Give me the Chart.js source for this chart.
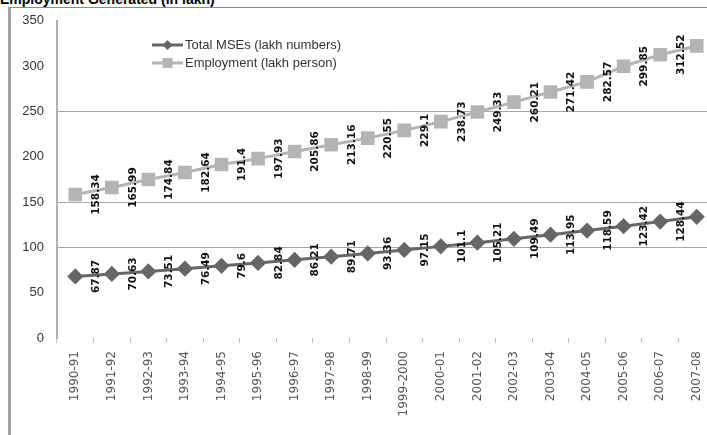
<!DOCTYPE html>
<html lang="en">

<head>
  <meta charset="UTF-8" />
  <title>Employment Generated (in lakh)</title>
  <script src="https://cdn.jsdelivr.net/npm/chart.js"></script>
  <style>
    * {
      margin: 0;
      padding: 0;
      box-sizing: border-box;
    }

    html,
    body {
      width: 707px;
      height: 435px;
      overflow: hidden;
      background: #ffffff;
    }

    .title {
      position: absolute;
      left: 0;
      top: -9px;
      font: bold 14px 'Liberation Sans', Arial, sans-serif;
      line-height: 16px;
      color: #000;
      white-space: nowrap;
    }

    .frame {
      position: absolute;
      left: 8px;
      top: 7px;
      width: 760px;
      height: 460px;
      border-top: 1px solid #8a8a8a;
      border-left: 3px solid #a0a0a0;
    }

    .chart-box {
      position: absolute;
      left: 0;
      top: 0;
      width: 735px;
      height: 435px;
    }
  </style>
</head>

<body>
  <div class="title">Employment Generated (in lakh)</div>
  <div class="frame"></div>
  <div class="chart-box">
    <canvas id="empChart" width="735" height="435"></canvas>
  </div>

  <script>
    // données
    const years = ['1990-91', '1991-92', '1992-93', '1993-94', '1994-95', '1995-96', '1996-97', '1997-98',
      '1998-99', '1999-2000', '2000-01', '2001-02', '2002-03', '2003-04', '2004-05', '2005-06', '2006-07', '2007-08'];
    const mseNumbers = [67.87, 70.63, 73.51, 76.49, 79.6, 82.84, 86.21, 89.71, 93.36, 97.15,
      101.1, 105.21, 109.49, 113.95, 118.59, 123.42, 128.44, 133.68];
    const employment = [158.34, 165.99, 174.84, 182.64, 191.4, 197.93, 205.86, 213.16, 220.55, 229.1,
      238.73, 249.33, 260.21, 271.42, 282.57, 299.85, 312.52, 322.28];
    const yTickValues = [0, 50, 100, 150, 200, 250, 300, 350];
    const visibleGrid = [100, 150, 250];
    const seriesNames = ['Total MSEs (lakh numbers)', 'Employment (lakh person)'];

    const darkGrey = '#666666';
    const lightGrey = '#b4b4b4';

    // étiquettes de valeurs, tournées, à droite de chaque point
    const pointLabels = {
      id: 'pointLabels',
      afterDatasetsDraw(chart) {
        const ctx = chart.ctx;
        chart.data.datasets.forEach((ds, i) => {
          const meta = chart.getDatasetMeta(i);
          meta.data.forEach((pt, j) => {
            ctx.save();
            ctx.translate(pt.x + 21, pt.y);
            ctx.rotate(-Math.PI / 2);
            ctx.font = 'bold 10.5px "DejaVu Sans"';
            ctx.fillStyle = '#111';
            ctx.textAlign = 'center';
            ctx.textBaseline = 'middle';
            ctx.fillText(String(ds.data[j]), 0, 0);
            ctx.restore();
          });
        });
      }
    };

    // légende dessinée à la main dans la zone du graphique
    const customLegend = {
      id: 'customLegend',
      afterDraw(chart) {
        const ctx = chart.ctx;
        const x0 = 152, x1 = 183, rows = [45, 63];
        chart.data.datasets.forEach((ds, i) => {
          const y = rows[i];
          ctx.save();
          ctx.strokeStyle = ds.borderColor;
          ctx.lineWidth = 3;
          ctx.beginPath();
          ctx.moveTo(x0, y);
          ctx.lineTo(x1, y);
          ctx.stroke();
          ctx.fillStyle = ds.pointBackgroundColor;
          const cx = (x0 + x1) / 2;
          ctx.beginPath();
          if (ds.pointStyle === 'rectRot') {
            ctx.moveTo(cx, y - 5);
            ctx.lineTo(cx + 5, y);
            ctx.lineTo(cx, y + 5);
            ctx.lineTo(cx - 5, y);
            ctx.closePath();
          } else {
            ctx.rect(cx - 5, y - 5, 10, 10);
          }
          ctx.fill();
          ctx.font = '13px "Liberation Sans"';
          ctx.fillStyle = '#333';
          ctx.textAlign = 'left';
          ctx.textBaseline = 'middle';
          ctx.fillText(ds.label, x1 + 2, y);
          ctx.restore();
        });
      }
    };

    const ctx = document.getElementById('empChart').getContext('2d');
    const empChart = new Chart(ctx, {
      type: 'line',
      data: {
        labels: years,
        datasets: [{
          label: seriesNames[0],
          data: mseNumbers,
          borderColor: darkGrey,
          backgroundColor: darkGrey,
          pointBackgroundColor: darkGrey,
          pointBorderColor: darkGrey,
          pointStyle: 'rectRot',
          pointRadius: 6,
          borderWidth: 3,
          tension: 0
        }, {
          label: seriesNames[1],
          data: employment,
          borderColor: lightGrey,
          backgroundColor: lightGrey,
          pointBackgroundColor: lightGrey,
          pointBorderColor: lightGrey,
          pointStyle: 'rect',
          pointRadius: 7.5,
          borderWidth: 3,
          tension: 0
        }]
      },
      options: {
        responsive: false,
        devicePixelRatio: 1,
        animation: false,
        layout: { padding: { top: 20, right: 20, left: 0, bottom: 0 } },
        scales: {
          x: {
            offset: true,
            border: { display: false },
            grid: {
              offset: true,
              drawOnChartArea: false,
              drawTicks: true,
              tickLength: 5,
              color: '#bdbdbd'
            },
            ticks: {
              autoSkip: false,
              maxRotation: 90,
              minRotation: 90,
              padding: 8,
              color: '#555',
              font: { family: 'DejaVu Sans', size: 12 }
            },
            afterFit(scale) { scale.height = 97; }
          },
          y: {
            min: 0,
            max: 350,
            afterBuildTicks(scale) { scale.ticks = yTickValues.map(v => ({ value: v })); },
            border: { display: true, color: '#b0b0b0', width: 2 },
            grid: {
              drawTicks: false,
              lineWidth: 1,
              color: (c) => visibleGrid.includes(c.tick && c.tick.value) ? '#a5a5a5' : 'rgba(0,0,0,0)'
            },
            ticks: {
              padding: 13,
              color: '#333',
              font: { family: 'Liberation Sans', size: 13 }
            },
            afterFit(scale) { scale.width = 57; }
          }
        },
        plugins: {
          legend: { display: false },
          tooltip: { enabled: false }
        }
      },
      plugins: [pointLabels, customLegend]
    });
  </script>
</body>

</html>
